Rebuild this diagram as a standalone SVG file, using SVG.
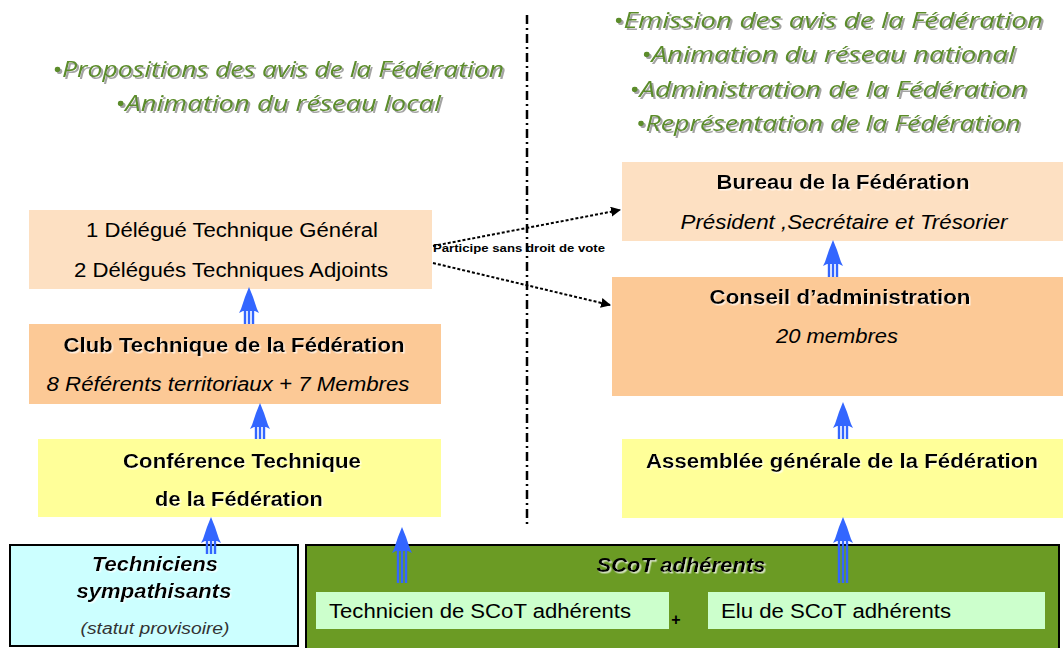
<svg xmlns="http://www.w3.org/2000/svg" width="1063" height="648" viewBox="0 0 1063 648">
<defs>
<style>
.t{font-family:"Liberation Sans",Arial,sans-serif;font-size:20px;fill:#000;text-anchor:middle}
.b{font-weight:bold}
.i{font-style:italic}
.s{font-family:"Open Sans","DejaVu Sans",sans-serif;font-style:italic;font-size:22px;fill:#5B8C2A;text-anchor:middle;filter:url(#sh)}
.shaft{stroke:#3366FF;stroke-width:2.4}
.head{fill:#3366FF}
.dot{fill:none;stroke:#000;stroke-width:2;stroke-dasharray:3 2}
</style>
<filter id="sh" x="-5%" y="-20%" width="110%" height="150%">
<feDropShadow dx="2" dy="2" stdDeviation="0.6" flood-color="#9a9a9a" flood-opacity="0.9"/>
</filter>
<filter id="wsh" x="-5%" y="-20%" width="110%" height="150%">
<feDropShadow dx="1.5" dy="1.5" stdDeviation="0.3" flood-color="#ffffff" flood-opacity="0.7"/>
</filter>
<polygon id="ah" class="head" points="0,0 4,10 8,22 10,26 6,24 -6,24 -10,26 -8,22 -4,10"/>
<marker id="blk" viewBox="0 0 10 10" refX="9" refY="5" markerWidth="5" markerHeight="5" orient="auto">
<path d="M0,0 L10,5 L0,10 z" fill="#000"/>
</marker>
</defs>
<rect width="1063" height="648" fill="#fff"/>

<g id="notes-left">
<text class="s" x="278" y="77" textLength="452" lengthAdjust="spacingAndGlyphs">•Propositions des avis de la Fédération</text>
<text class="s" x="278" y="111" textLength="326" lengthAdjust="spacingAndGlyphs">•Animation du réseau local</text>
</g>
<g id="notes-right">
<text class="s" x="828" y="28" textLength="430" lengthAdjust="spacingAndGlyphs">•Emission des avis  de la Fédération</text>
<text class="s" x="828" y="62" textLength="374" lengthAdjust="spacingAndGlyphs">•Animation du réseau national</text>
<text class="s" x="828" y="97" textLength="398" lengthAdjust="spacingAndGlyphs">•Administration de la Fédération</text>
<text class="s" x="828" y="131" textLength="385" lengthAdjust="spacingAndGlyphs">•Représentation de la Fédération</text>
</g>

<g id="divider">
<line x1="527" y1="15" x2="527" y2="528" stroke="#000" stroke-width="2.5" stroke-dasharray="9 4 2 4"/>
</g>

<g id="delegues">
<rect x="29" y="210" width="403" height="79" fill="#FDE0C2"/>
<text class="t" x="232" y="237" textLength="292" lengthAdjust="spacingAndGlyphs">1 Délégué Technique Général</text>
<text class="t" x="231" y="277" textLength="314" lengthAdjust="spacingAndGlyphs">2 Délégués Techniques Adjoints</text>
</g>
<g id="club">
<rect x="29" y="324" width="412" height="80" fill="#FCC996"/>
<text class="t b" x="234" y="352" filter="url(#wsh)" textLength="341" lengthAdjust="spacingAndGlyphs">Club Technique de la Fédération</text>
<text class="t i" x="228" y="391" textLength="363" lengthAdjust="spacingAndGlyphs">8 Référents territoriaux + 7 Membres</text>
</g>
<g id="conference">
<rect x="38" y="439" width="403" height="78" fill="#FFFF99"/>
<text class="t b" x="242" y="468" filter="url(#wsh)" textLength="238" lengthAdjust="spacingAndGlyphs">Conférence Technique</text>
<text class="t b" x="239" y="506" filter="url(#wsh)" textLength="168" lengthAdjust="spacingAndGlyphs">de la Fédération</text>
</g>
<g id="bureau">
<rect x="622" y="162" width="441" height="79" fill="#FDE0C2"/>
<text class="t b" x="843" y="189" filter="url(#wsh)" textLength="253" lengthAdjust="spacingAndGlyphs">Bureau de la Fédération</text>
<text class="t i" x="844" y="229" textLength="327" lengthAdjust="spacingAndGlyphs">Président ,Secrétaire et Trésorier</text>
</g>
<g id="conseil">
<rect x="612" y="277" width="451" height="119" fill="#FCC996"/>
<text class="t b" x="840" y="304" filter="url(#wsh)" textLength="261" lengthAdjust="spacingAndGlyphs">Conseil d’administration</text>
<text class="t i" x="837" y="343" textLength="122" lengthAdjust="spacingAndGlyphs">20 membres</text>
</g>
<g id="assemblee">
<rect x="622" y="439" width="441" height="79" fill="#FFFF99"/>
<text class="t b" x="842" y="468" filter="url(#wsh)" textLength="392" lengthAdjust="spacingAndGlyphs">Assemblée générale de la Fédération</text>
</g>
<g id="sympathisants">
<rect x="10" y="545" width="288" height="101" fill="#CCFFFF" stroke="#000" stroke-width="2"/>
<text class="t b i" x="155" y="571" filter="url(#wsh)" textLength="126" lengthAdjust="spacingAndGlyphs">Techniciens</text>
<text class="t b i" x="154" y="598" filter="url(#wsh)" textLength="155" lengthAdjust="spacingAndGlyphs">sympathisants</text>
<text class="t i" x="155" y="634" style="font-size:16px;fill:#333" textLength="149" lengthAdjust="spacingAndGlyphs">(statut provisoire)</text>
</g>
<g id="scot">
<rect x="306" y="545" width="753" height="104" fill="#6B9B24" stroke="#000" stroke-width="2"/>
<text class="t b i" x="681" y="572" filter="url(#wsh)" textLength="169" lengthAdjust="spacingAndGlyphs">SCoT adhérents</text>
<rect x="316" y="592" width="353" height="37" fill="#CCFFCC"/>
<text class="t" x="329" y="618" style="text-anchor:start" textLength="302" lengthAdjust="spacingAndGlyphs">Technicien de SCoT adhérents</text>
<rect x="708" y="592" width="337" height="37" fill="#CCFFCC"/>
<text class="t" x="721" y="618" style="text-anchor:start" textLength="230" lengthAdjust="spacingAndGlyphs">Elu de SCoT adhérents</text>
<text class="t b" x="676" y="625" style="font-size:16px">+</text>
</g>

<g id="connectors">
<line class="dot" x1="433" y1="246" x2="620" y2="210" marker-end="url(#blk)"/>
<line class="dot" x1="433" y1="263" x2="610" y2="305" marker-end="url(#blk)"/>
<text x="433" y="252" style="font-family:'Liberation Sans',Arial,sans-serif;font-size:11px;font-weight:bold;fill:#000" textLength="172" lengthAdjust="spacingAndGlyphs">Participe sans droit de vote</text>

<g transform="translate(249,287)"><path class="shaft" d="M-4,22V37M0,22V37M4,22V37"/><use href="#ah"/></g>
<g transform="translate(260,403)"><path class="shaft" d="M-4,22V36M0,22V36M4,22V36"/><use href="#ah"/></g>
<g transform="translate(211,517)"><path class="shaft" d="M-4,22V37M0,22V37M4,22V37"/><use href="#ah"/></g>
<g transform="translate(402,527)"><path class="shaft" d="M-4,22V56M0,22V56M4,22V56"/><use href="#ah"/></g>
<g transform="translate(833,240)"><path class="shaft" d="M-4,22V37M0,22V37M4,22V37"/><use href="#ah"/></g>
<g transform="translate(843,402)"><path class="shaft" d="M-4,22V37M0,22V37M4,22V37"/><use href="#ah"/></g>
<g transform="translate(843,517)"><path class="shaft" d="M-4,22V66M0,22V66M4,22V66"/><use href="#ah"/></g>
</g>
</svg>
